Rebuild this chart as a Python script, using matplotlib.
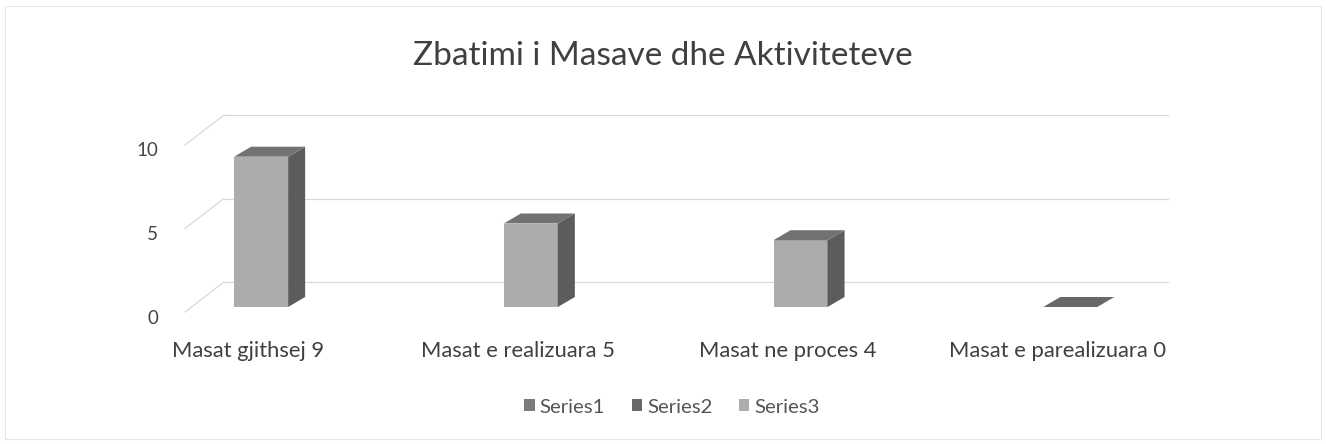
import matplotlib
matplotlib.use("Agg")
import matplotlib.pyplot as plt
from matplotlib.patches import Polygon, Patch, Rectangle

plt.rcParams['font.family'] = ['Lato', 'DejaVu Sans']

# ---- data ----
categories = ["Masat gjithsej 9", "Masat e realizuara 5", "Masat ne proces 4", "Masat e parealizuara 0"]
values = [9, 5, 4, 0]
series_names = ["Series1", "Series2", "Series3"]
series_colors = ["#7b7b7b", "#686868", "#acacac"]
yticks = [0, 5, 10]
title = "Zbatimi i Masave dhe Aktiviteteve"

W, H, DPI = 13.26, 4.44, 100
fig = plt.figure(figsize=(W, H), dpi=DPI)

# axes plane (plane of bar front faces)
ax = fig.add_axes([191 / 1326, (444 - 307) / 444, (1135 - 191) / 1326, 167 / 444])
x0, x1 = -0.26, 3.24
ax.set_xlim(x0, x1)
ax.set_ylim(0, 10)
ax.axis('off')

pxx = (1135 - 191) / (x1 - x0)   # px per x unit
pxy = 167 / 10.0                 # px per y unit

def dx(p):
    return p / pxx

def dy(p):
    return p / pxy

# back wall / side wall offsets (px)
bwx, bwy = 33, 25
ffx, ffy = -6, -5
grid_c = "#d9d9d9"
for v in yticks:
    ax.plot([x0 + dx(bwx), x1 + dx(bwx)], [v + dy(bwy), v + dy(bwy)],
            color=grid_c, lw=0.9, clip_on=False, zorder=1)
    ax.plot([x0 + dx(ffx), x0 + dx(bwx)], [v + dy(ffy), v + dy(bwy)],
            color=grid_c, lw=0.9, clip_on=False, zorder=1)
    ax.text(x0 + dx(-33), v + dy(-11), str(v), ha='right', va='center',
            fontsize=13.5, color='#454545')

# bars
w = 54 / pxx
ddx, ddy = dx(17), dy(10)
xs = list(range(len(categories)))
ax.bar(xs, values, width=w, color="#acacac", edgecolor='none', zorder=3, clip_on=False)
for x, v in zip(xs, values):
    xr = x + w / 2
    xl = x - w / 2
    if v > 0:
        side = Polygon([(xr, 0), (xr + ddx, ddy), (xr + ddx, v + ddy), (xr, v)],
                       closed=True, facecolor="#5c5c5c", edgecolor='none', zorder=3, clip_on=False)
        ax.add_patch(side)
    top = Polygon([(xl, v), (xr, v), (xr + ddx, v + ddy), (xl + ddx, v + ddy)],
                  closed=True, facecolor="#727272" if v > 0 else "#686868",
                  edgecolor='none', zorder=4, clip_on=False)
    ax.add_patch(top)
    ax.text(x + dx(-13), dy(-50), categories[x], ha='center', va='baseline',
            fontsize=15.8, color='#404040')

fig.text(663 / 1326, 1 - 65 / 444, title, ha='center', va='baseline',
         fontsize=24, color='#404040')

handles = [Patch(facecolor=c, edgecolor='none', label=n) for n, c in zip(series_names, series_colors)]
fig.legend(handles=handles, loc='center', bbox_to_anchor=(672 / 1326, (444 - 407) / 444),
           ncol=3, frameon=False, fontsize=14.7, handlelength=0.5, handleheight=0.5,
           handletextpad=0.25, columnspacing=1.3, labelcolor='#555555')

fig.patches.append(Rectangle((5 / 1326, 5 / 444), 1316 / 1326, 433 / 444, transform=fig.transFigure,
                             fill=False, edgecolor='#e6e6e6', lw=0.8))

fig.savefig("out.png", dpi=DPI)
